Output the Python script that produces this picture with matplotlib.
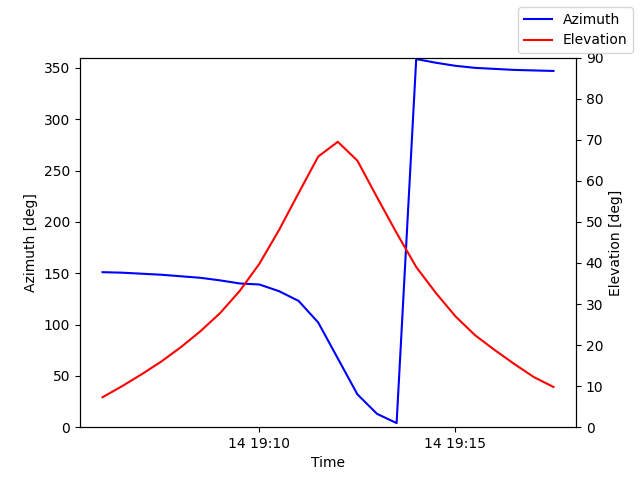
import matplotlib
matplotlib.use("Agg")
import matplotlib.pyplot as plt
import matplotlib.dates as mdates
import pandas as pd

times = pd.date_range("2024-05-14 19:06:00", "2024-05-14 19:17:30", freq="30s")
azimuth = [151, 150.5, 149.5, 148.5, 147, 145.5, 143, 140, 139, 132.5, 123, 102, 67, 32, 13, 4,
           358.6, 355, 352, 350, 349, 348, 347.5, 347]
elevation = [7.3, 10, 12.9, 16, 19.5, 23.4, 27.8, 33.2, 39.8, 48, 57, 65.9, 69.5, 64.9, 56, 47.3,
             39, 32.7, 27, 22.4, 18.8, 15.4, 12.2, 9.8]

fig, ax = plt.subplots(figsize=(6.4, 4.8), dpi=100)
l1, = ax.plot(times, azimuth, color="blue", label="Azimuth")
ax.set_ylim(0, 360)
ax.set_ylabel("Azimuth [deg]")
ax.set_xlabel("Time")
ax2 = ax.twinx()
l2, = ax2.plot(times, elevation, color="red", label="Elevation")
ax2.set_ylim(0, 90)
ax2.set_ylabel("Elevation [deg]")
ax.xaxis.set_major_locator(mdates.MinuteLocator(byminute=[10, 15]))
ax.xaxis.set_major_formatter(mdates.DateFormatter("%d %H:%M"))
fig.legend(handles=[l1, l2], loc="upper right")
fig.savefig("out.png")
